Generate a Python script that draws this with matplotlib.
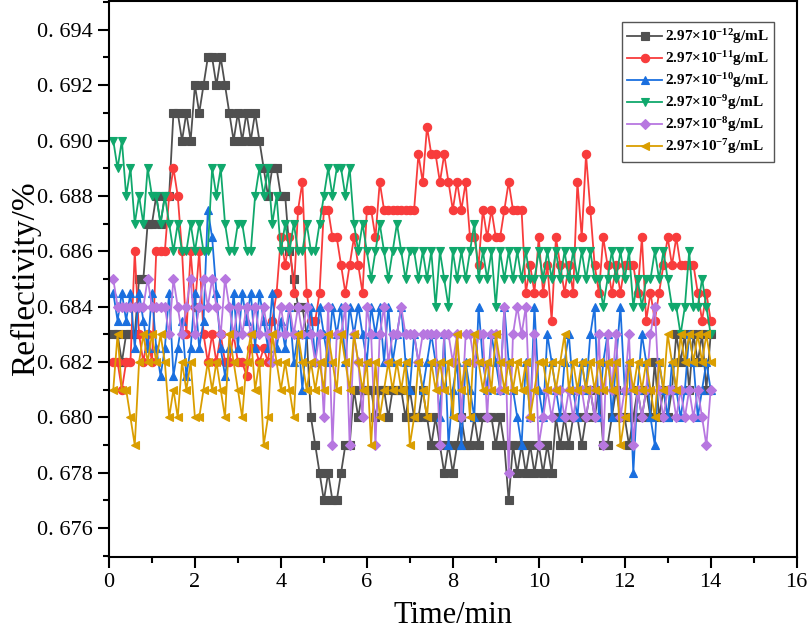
import numpy as np
import matplotlib
matplotlib.use("Agg")
import matplotlib.pyplot as plt
from matplotlib.ticker import MultipleLocator, FixedLocator

plt.rcParams['font.family'] = ['Liberation Serif', 'DejaVu Serif']
plt.rcParams['mathtext.fontset'] = 'custom'
plt.rcParams['mathtext.rm'] = 'Liberation Serif'
plt.rcParams['mathtext.bf'] = 'Liberation Serif:bold'
plt.rcParams['mathtext.default'] = 'bf'

# time axis (min)
t_start, t_step, n_pts = 0.1, 0.1, 140

# values in units of 1e-3 (e.g. 683 -> 0.683)
black = [683, 683, 682, 683, 683, 683, 685, 685, 687, 687,
         688, 687, 688, 688, 691, 691, 690, 691, 690, 692,
         691, 692, 693, 693, 692, 693, 692, 691, 690, 691,
         690, 691, 690, 691, 690, 689, 688, 689, 689, 688,
         688, 686, 685, 684, 684, 683, 680, 679, 678, 677,
         678, 677, 677, 678, 679, 679, 681, 680, 681, 681,
         681, 680, 681, 681, 680, 681, 681, 681, 680, 681,
         680, 680, 681, 680, 679, 680, 679, 678, 679, 678,
         679, 680, 679, 679, 680, 679, 680, 680, 680, 679,
         680, 679, 677, 679, 678, 679, 678, 679, 678, 679,
         678, 679, 678, 680, 679, 680, 679, 680, 680, 679,
         680, 681, 680, 681, 679, 679, 680, 681, 680, 680,
         679, 680, 681, 680, 681, 680, 682, 680, 681, 680,
         681, 683, 682, 683, 681, 683, 682, 683, 681, 683]

red = [682, 682, 681, 682, 682, 686, 683, 682, 683, 682,
       686, 686, 686, 688, 689, 688, 686, 683, 686, 684,
       686, 683, 682, 683, 682, 683, 682, 682, 683, 682,
       682, 681.5, 682.5, 682.5, 682, 682.5, 682, 683.5, 684.5, 686.5,
       685.5, 686.5, 684.5, 687.5, 688.5, 684.5, 683.5, 683.5, 684.5, 687.5,
       687.5, 686.5, 686.5, 685.5, 684.5, 685.5, 686.5, 685.5, 684.5, 687.5,
       687.5, 686.5, 688.5, 687.5, 687.5, 687.5, 687.5, 687.5, 687.5, 687.5,
       687.5, 689.5, 688.5, 690.5, 689.5, 689.5, 688.5, 689.5, 688.5, 687.5,
       688.5, 687.5, 688.5, 686.5, 686.5, 685.5, 687.5, 686.5, 687.5, 686.5,
       686.5, 687.5, 688.5, 687.5, 687.5, 687.5, 684.5, 685.5, 684.5, 686.5,
       684.5, 685.5, 683.5, 686.5, 685.5, 684.5, 685.5, 684.5, 688.5, 686.5,
       689.5, 687.5, 685.5, 684.5, 686.5, 685.5, 684.5, 685.5, 684.5, 685.5,
       685.5, 685.5, 684.5, 686.5, 683.5, 684.5, 683.5, 684.5, 685.5, 686.5,
       685.5, 686.5, 685.5, 685.5, 685.5, 685.5, 684.5, 683.5, 684.5, 683.5]

blue = [684.5, 683.5, 684.5, 683.5, 684.5, 682.5, 684.5, 683.5, 682.5, 684.5,
        682.5, 681.5, 682.5, 684.5, 681.5, 682.5, 683.5, 681.5, 682.5, 684.5,
        682.5, 683.5, 687.5, 686.5, 684.5, 682.5, 681.5, 682.5, 684.5, 682.5,
        684.5, 683.5, 684.5, 682.5, 684.5, 683.5, 682.5, 684.5, 682.5, 683.5,
        682.5, 684, 682, 683, 681, 683, 684, 682, 684, 683,
        682, 684, 683, 684, 682, 684, 683, 684, 683, 682,
        684, 683, 684, 682, 684, 682, 683, 684, 682, 681,
        683, 682, 681, 682, 683, 682, 680, 683, 679, 681,
        682, 679, 682, 681, 680, 684, 682, 681, 683, 682,
        681, 684, 682, 681, 680, 679, 682, 680, 684, 681,
        680, 683, 682, 681, 680, 682, 683, 681, 680, 682,
        681, 683, 684, 680, 682, 683, 680, 682, 684, 681,
        682, 678, 681, 683, 682, 680, 679, 682, 681, 680,
        682, 681, 680, 681, 683, 682, 680, 681, 682, 681]

green = [690, 689, 690, 688, 689, 687, 688, 687, 689, 688,
         688, 687, 688, 687, 686, 687, 686, 686, 687, 686,
         687, 686, 686, 689, 688, 689, 687, 686, 686, 687,
         687, 686, 686, 688, 689, 688, 689, 687, 688, 686,
         687, 686, 687, 686, 686, 687, 686, 686, 687, 688,
         689, 688, 689, 689, 688, 689, 687, 686, 687, 686,
         685, 686, 687, 686, 685, 686, 687, 686, 685, 686,
         686, 685, 686, 685, 686, 684, 686, 685, 684, 686,
         685, 686, 685, 686, 687, 685, 686, 685, 686, 684,
         686, 685, 686, 685, 686, 685, 686, 685, 685, 686,
         685, 686, 685, 686, 685, 686, 685, 686, 685, 686,
         685, 686, 685, 685, 684, 685, 686, 685, 686, 685,
         686, 684, 685, 684, 685, 685, 686, 685, 686, 685,
         684, 684, 683, 684, 686, 684, 684, 685, 684, 683]

purple = [685, 684, 684, 684, 684, 684, 684, 684, 685, 684,
          684, 684, 684, 683, 685, 684, 683, 684, 685, 683,
          684, 685, 684, 685, 684, 683, 685, 684, 683, 684,
          683, 684, 683, 684, 683, 684, 683, 682, 683, 684,
          683, 684, 683, 684, 683, 684, 683, 682, 683, 680,
          684, 679, 683, 683, 684, 679, 683, 682, 680, 684,
          683, 679, 683, 684, 682, 683, 683, 684, 683, 683,
          683, 682, 683, 683, 683, 683, 679, 683, 683, 682,
          683, 680, 683, 683, 682, 683, 683, 680, 683, 683,
          681, 684, 678, 683, 684, 683, 684, 680, 683, 679,
          680, 681, 680, 681, 681, 680, 681, 680, 681, 681,
          680, 681, 680, 683, 679, 683, 681, 683, 680, 681,
          683, 679, 681, 680, 681, 683, 684, 681, 680, 681,
          681, 680, 681, 680, 681, 680, 681, 680, 679, 681]

orange = [681, 683, 681, 681, 680, 679, 682, 683, 682, 683,
          682, 683, 682, 680, 681, 680, 682, 681, 682, 680,
          680, 681, 682, 681, 682, 681, 680, 683, 682, 681,
          680, 682, 683, 681, 682, 679, 680, 683, 682, 681,
          682, 681, 680, 683, 682, 681, 682, 681, 682, 681,
          683, 682, 681, 683, 682, 681, 683, 682, 681, 682,
          679, 682, 680, 681, 682, 681, 682, 681, 682, 679,
          680, 682, 681, 680, 682, 681, 682, 681, 682, 680,
          683, 681, 682, 680, 683, 682, 681, 682, 681, 683,
          682, 681, 682, 681, 682, 681, 682, 680, 681, 682,
          682, 681, 682, 681, 682, 683, 681, 682, 681, 682,
          681, 682, 681, 682, 681, 682, 681, 682, 679, 680,
          682, 681, 682, 681, 682, 681, 680, 682, 681, 683,
          682, 681, 683, 682, 683, 682, 683, 682, 683, 682]

labels = [r'2.97×10$^{-12}$g/mL', r'2.97×10$^{-11}$g/mL', r'2.97×10$^{-10}$g/mL',
          r'2.97×10$^{-9}$g/mL', r'2.97×10$^{-8}$g/mL', r'2.97×10$^{-7}$g/mL']
yticks = [0.676, 0.678, 0.680, 0.682, 0.684, 0.686, 0.688, 0.690, 0.692, 0.694]
ytick_labels = ['0. 676', '0. 678', '0. 680', '0. 682', '0. 684', '0. 686',
                '0. 688', '0. 690', '0. 692', '0. 694']
xticks = [0, 2, 4, 6, 8, 10, 12, 14, 16]

series = [black, red, blue, green, purple, orange]
colors = ['#505050', '#F83C3C', '#1A6FDF', '#10A86C', '#B777E0', '#DA9E00']
markers = ['s', 'o', '^', 'v', 'D', '<']
msizes = [5.2, 6.0, 6.4, 6.4, 5.2, 6.4]

t = t_start + t_step * np.arange(n_pts)

fig = plt.figure(figsize=(8.09, 6.35), dpi=100)
ax = fig.add_axes([0.1347, 0.1233, 0.8500, 0.8751])

for vals, c, m, ms, lab in zip(series, colors, markers, msizes, labels):
    y = np.array(vals, dtype=float) / 1000.0
    ax.plot(t, y, color=c, marker=m, markersize=ms, linewidth=1.3,
            markeredgewidth=0.8, markeredgecolor=c, label=lab)

ax.set_xlim(0, 16)
ax.set_ylim(0.67497, 0.69504)
ax.xaxis.set_major_locator(FixedLocator(xticks))
ax.xaxis.set_minor_locator(MultipleLocator(1))
ax.yaxis.set_major_locator(FixedLocator(yticks))
ax.yaxis.set_minor_locator(MultipleLocator(0.001))
ax.set_yticklabels(ytick_labels)
ax.set_xticklabels([str(v) for v in xticks])

ax.tick_params(which='major', direction='out', length=8, width=1.5, labelsize=16, pad=4)
ax.tick_params(which='minor', direction='out', length=4, width=1.5)
ax.tick_params(top=False, right=False)
for s in ax.spines.values():
    s.set_linewidth(1.5)

ax.set_xlabel('Time/min', fontsize=22, labelpad=6)
ax.set_ylabel('Reflectivity/%', fontsize=24, labelpad=-3)

leg = ax.legend(loc='upper right', bbox_to_anchor=(0.967, 0.962), borderaxespad=0,
                fancybox=False, edgecolor='#555555', framealpha=1,
                prop={'family': 'Liberation Serif', 'weight': 'bold', 'size': 11},
                handlelength=2.3, handletextpad=0.15, labelspacing=0.2,
                borderpad=0.35, numpoints=1)
leg.get_frame().set_linewidth(1.0)

fig.savefig('out.png', dpi=100)
